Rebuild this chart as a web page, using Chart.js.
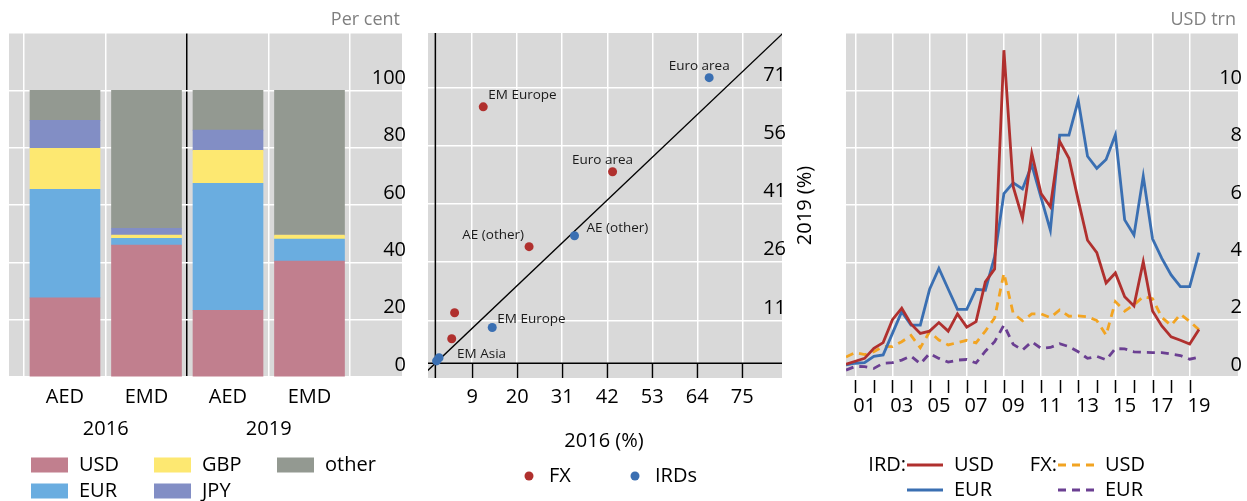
<!DOCTYPE html>
<html>
<head>
<meta charset="utf-8">
<script src="https://cdn.jsdelivr.net/npm/chart.js@4.4.0/dist/chart.umd.min.js"></script>
<style>
  body { margin: 0; background: #fff; }
  canvas { position: absolute; top: 0; }
</style>
</head>
<body>
<canvas id="shares" width="420" height="501" style="left:0"></canvas>
<canvas id="scatter" width="400" height="501" style="left:420px"></canvas>
<canvas id="lines" width="427" height="501" style="left:820px"></canvas>
<script>
// ---- left panel: currency shares, per cent
const barPos = [1, 2, 3, 4];
const barGroups = ['AED', 'EMD', 'AED', 'EMD'];
const yearPos = [1.5, 3.5];
const yearLabels = ['2016', '2019'];
const currencyNames = ['USD', 'EUR', 'GBP', 'JPY', 'other'];
const shareUSD = [27.6, 46.0, 23.3, 40.4];
const shareEUR = [37.9, 2.4, 44.3, 7.7];
const shareGBP = [14.3, 1.1, 11.5, 1.4];
const shareJPY = [9.7, 2.4, 7.0, 0.0];
const shareOther = [10.5, 48.1, 13.9, 50.5];

// ---- middle panel: 2016 vs 2019 (%)
const fxNames = ['EM Europe', 'Euro area', 'AE (other)', '', ''];
const fx2016 = [11.7, 43.3, 22.9, 4.7, 4.0];
const fx2019 = [66.0, 49.3, 30.0, 13.0, 6.3];
const irdNames = ['Euro area', 'AE (other)', 'EM Europe', 'EM Asia', ''];
const ird2016 = [66.9, 34.0, 13.9, 0.9, 0.3];
const ird2019 = [73.5, 32.8, 9.2, 1.4, 0.6];
const diagonal = [-5, 90];
const scatterXTicks = [9, 20, 31, 42, 53, 64, 75];
const scatterYTicks = [11, 26, 41, 56, 71];

// ---- right panel: USD trn, half-yearly
const periods = [2000.5, 2001, 2001.5, 2002, 2002.5, 2003, 2003.5, 2004, 2004.5, 2005, 2005.5,
  2006, 2006.5, 2007, 2007.5, 2008, 2008.5, 2009, 2009.5, 2010, 2010.5, 2011, 2011.5, 2012,
  2012.5, 2013, 2013.5, 2014, 2014.5, 2015, 2015.5, 2016, 2016.5, 2017, 2017.5, 2018, 2018.5,
  2019, 2019.5];
const irdUSD = [0.45, 0.55, 0.65, 1.0, 1.2, 2.0, 2.4, 1.85, 1.52, 1.6, 1.9, 1.6, 2.2, 1.74, 1.93,
  3.32, 3.77, 11.4, 6.64, 5.53, 7.8, 6.4, 5.94, 8.22, 7.63, 6.17, 4.77, 4.34, 3.28, 3.63, 2.8,
  2.48, 4.02, 2.3, 1.78, 1.4, 1.28, 1.15, 1.66];
const irdEUR = [0.42, 0.48, 0.5, 0.72, 0.77, 1.52, 2.28, 1.81, 1.81, 3.06, 3.79, 3.07, 2.36, 2.36,
  3.06, 3.03, 4.2, 6.4, 6.77, 6.56, 7.4, 6.26, 5.12, 8.44, 8.44, 9.65, 7.7, 7.28, 7.59, 8.45, 5.48,
  4.95, 7.0, 4.82, 4.14, 3.56, 3.15, 3.15, 4.34];
const fxUSD = [0.7, 0.85, 0.78, 0.88, 1.07, 1.06, 1.23, 1.45, 1.02, 1.58, 1.29, 1.12, 1.2, 1.28,
  1.19, 1.6, 2.06, 3.62, 2.22, 1.96, 2.2, 2.2, 2.07, 2.34, 2.12, 2.13, 2.1, 1.97, 1.46, 2.63, 2.3,
  2.52, 2.8, 2.73, 2.08, 1.8, 2.19, 1.94, 1.65];
const fxEUR = [0.24, 0.37, 0.36, 0.3, 0.48, 0.5, 0.59, 0.73, 0.46, 0.82, 0.65, 0.52, 0.59, 0.61,
  0.49, 0.9, 1.23, 1.81, 1.14, 0.94, 1.23, 1.0, 1.03, 1.16, 1.06, 0.88, 0.65, 0.72, 0.6, 0.99,
  0.98, 0.88, 0.86, 0.85, 0.85, 0.8, 0.75, 0.62, 0.69];
const instrumentNames = ['IRD:', 'FX:'];

// Global Options
const FONT = "'Open Sans', sans-serif";
Chart.defaults.font.family = FONT;
Chart.defaults.font.size = 20;
Chart.defaults.color = '#000';
Chart.defaults.animation = false;
Chart.defaults.plugins.legend.display = false;
Chart.defaults.plugins.tooltip.enabled = false;

const GREY = '#d9d9d9';
const RED = '#b0302e';
const BLUE = '#3a6fb2';
const ORANGE = '#f2a422';
const PURPLE = '#6b3f92';

// grey plot background
const greyBg = {
  id: 'greyBg',
  beforeDraw(chart) {
    const {ctx, chartArea: a} = chart;
    ctx.save();
    ctx.fillStyle = GREY;
    ctx.fillRect(a.left, a.top, a.right - a.left, a.bottom - a.top);
    ctx.restore();
  },
};

// small grey unit text above the plot, right aligned
const unitText = (text) => ({
  id: 'unitText',
  afterDraw(chart) {
    const {ctx, chartArea: a} = chart;
    ctx.save();
    ctx.font = '18px ' + FONT;
    ctx.fillStyle = '#7f7f7f';
    ctx.textAlign = 'right';
    ctx.textBaseline = 'middle';
    ctx.fillText(text, a.right - 2, a.top - 13);
    ctx.restore();
  },
});

const mirroredY = (extra) => Object.assign({
  position: 'right',
  afterFit: (s) => { s.width = 0; },
  border: {display: false},
  grid: {color: '#fff', lineWidth: 1.5, drawTicks: false},
}, extra);

// ================= left panel =================
const shareColors = ['#c17f8e', '#6aade0', '#fde871', '#828ec5', '#939991'];
const shareSeries = [shareUSD, shareEUR, shareGBP, shareJPY, shareOther];
const shareTicks = [0.5].concat(barPos.flatMap((p) => [p, p + 0.5]));

const shareLegend = {
  id: 'shareLegend',
  afterDraw(chart) {
    const {ctx, chartArea: a} = chart;
    ctx.save();
    ctx.font = '20px ' + FONT;
    ctx.textBaseline = 'middle';
    chart.data.datasets.forEach((ds, i) => {
      const x = a.left + 22 + Math.floor(i / 2) * 123;
      const y = a.bottom + 88 + (i % 2) * 26;
      ctx.fillStyle = ds.backgroundColor;
      ctx.fillRect(x, y - 7.5, 37, 15);
      ctx.fillStyle = '#000';
      ctx.fillText(ds.label, x + 48, y);
    });
    ctx.restore();
  },
};

new Chart(document.getElementById('shares'), {
  type: 'bar',
  data: {
    datasets: shareSeries.map((vals, i) => ({
      label: currencyNames[i],
      data: vals.map((v, j) => ({x: barPos[j], y: v})),
      backgroundColor: shareColors[i],
      borderWidth: 0,
      barThickness: 70,
    })),
  },
  options: {
    responsive: false,
    layout: {padding: {left: 9, right: 18, top: 33, bottom: 0}},
    scales: {
      x: {
        type: 'linear', stacked: true, offset: false, min: 0.313, max: 5.135,
        afterBuildTicks: (s) => { s.ticks = shareTicks.map((v) => ({value: v})); },
        afterFit: (s) => { s.height = 124; },
        border: {display: false},
        grid: {
          offset: false, drawTicks: false,
          lineWidth: 1.5,
          color: (c) => {
            const v = c.tick.value;
            if (v === 2.5) return '#000';
            return v % 1 === 0.5 ? '#fff' : 'rgba(0,0,0,0)';
          },
        },
        ticks: {
          padding: 4, autoSkip: false, maxRotation: 0,
          font: {size: 20, lineHeight: 1.6},
          callback: (v) => {
            const b = barPos.indexOf(v);
            if (b >= 0) return barGroups[b];
            const y = yearPos.indexOf(v);
            return y >= 0 ? ['', yearLabels[y]] : '';
          },
        },
      },
      y: mirroredY({
        stacked: true, min: 0, max: 120,
        ticks: {stepSize: 20, mirror: true, padding: 4, labelOffset: -12,
          callback: (v) => (v <= 100 ? v : '')},
      }),
    },
  },
  plugins: [greyBg, unitText('Per cent'), shareLegend],
});

// ================= middle panel =================
const labelPlace = {
  0: [['left', 5, -12], ['center', -10, -12], ['right', -5, -12]],
  1: [['center', -10, -12], ['left', 12, -8], ['left', 5, -8], ['left', 18, -4]],
};

const scatterDecor = {
  id: 'scatterDecor',
  beforeDatasetsDraw(chart) {
    const {ctx, chartArea: a, scales} = chart;
    const x0 = scales.x.getPixelForValue(0);
    const y0 = scales.y.getPixelForValue(0);
    ctx.save();
    ctx.strokeStyle = '#000';
    ctx.lineWidth = 1.5;
    ctx.beginPath();
    ctx.moveTo(x0, a.top); ctx.lineTo(x0, a.bottom);
    ctx.moveTo(a.left, y0); ctx.lineTo(a.right, y0);
    scales.x.ticks.forEach((t) => {
      const px = Math.round(scales.x.getPixelForValue(t.value)) + 0.5;
      ctx.moveTo(px, y0); ctx.lineTo(px, a.bottom);
    });
    ctx.stroke();
    ctx.restore();
  },
  afterDatasetsDraw(chart) {
    const {ctx} = chart;
    ctx.save();
    ctx.font = '13.5px ' + FONT;
    ctx.fillStyle = '#1a1a1a';
    ctx.textBaseline = 'middle';
    [fxNames, irdNames].forEach((names, d) => {
      const pts = chart.getDatasetMeta(d).data;
      names.forEach((name, i) => {
        if (!name) return;
        const [align, dx, dy] = labelPlace[d][i];
        ctx.textAlign = align;
        ctx.fillText(name, pts[i].x + dx, pts[i].y + dy);
      });
    });
    ctx.restore();
  },
  afterDraw(chart) {
    const {ctx, chartArea: a} = chart;
    ctx.save();
    ctx.font = '20px ' + FONT;
    ctx.fillStyle = '#000';
    ctx.textAlign = 'center';
    ctx.textBaseline = 'middle';
    ctx.fillText('2016 (%)', (a.left + a.right) / 2 - 1, a.bottom + 63);
    ctx.save();
    ctx.translate(a.right + 23, (a.top + a.bottom) / 2);
    ctx.rotate(-Math.PI / 2);
    ctx.fillText('2019 (%)', 0, 0);
    ctx.restore();
    // legend
    ctx.textAlign = 'left';
    chart.data.datasets.slice(0, 2).forEach((ds, i) => {
      const x = a.left + 101 + i * 106;
      const y = a.bottom + 98;
      ctx.fillStyle = ds.backgroundColor;
      ctx.beginPath();
      ctx.arc(x, y, 4.5, 0, Math.PI * 2);
      ctx.fill();
      ctx.fillStyle = '#000';
      ctx.fillText(ds.label, x + 20, y);
    });
    ctx.restore();
  },
};

new Chart(document.getElementById('scatter'), {
  type: 'scatter',
  data: {
    datasets: [
      {label: 'FX', data: fx2016.map((x, i) => ({x, y: fx2019[i]})),
        backgroundColor: RED, borderWidth: 0, pointRadius: 4.5},
      {label: 'IRDs', data: ird2016.map((x, i) => ({x, y: ird2019[i]})),
        backgroundColor: BLUE, borderWidth: 0, pointRadius: 4.5},
      {label: '45 degree', data: diagonal.map((v) => ({x: v, y: v})), showLine: true,
        borderColor: '#000', borderWidth: 1.3, pointRadius: 0},
    ],
  },
  options: {
    responsive: false,
    layout: {padding: {left: 8, right: 38, top: 33, bottom: 0}},
    scales: {
      x: {
        type: 'linear', min: -1.8, max: 84.7,
        afterBuildTicks: (s) => { s.ticks = scatterXTicks.map((v) => ({value: v})); },
        afterFit: (s) => { s.height = 123; },
        border: {display: false},
        grid: {color: '#fff', lineWidth: 1.5, drawTicks: false},
        ticks: {padding: 7, autoSkip: false, maxRotation: 0},
      },
      y: mirroredY({
        type: 'linear', min: -3.8, max: 85,
        afterBuildTicks: (s) => { s.ticks = scatterYTicks.map((v) => ({value: v})); },
        ticks: {mirror: true, padding: 4, labelOffset: -12.5},
      }),
    },
  },
  plugins: [greyBg, scatterDecor],
});

// ================= right panel =================
const lineDecor = {
  id: 'lineDecor',
  afterDraw(chart) {
    const {ctx, chartArea: a, scales} = chart;
    ctx.save();
    // year tick marks below the plot
    ctx.strokeStyle = '#000';
    ctx.lineWidth = 1.5;
    ctx.beginPath();
    scales.x.ticks.forEach((t) => {
      const px = Math.round(scales.x.getPixelForValue(t.value)) + 0.5;
      ctx.moveTo(px, a.bottom + 3); ctx.lineTo(px, a.bottom + 16);
    });
    ctx.stroke();
    // legend
    ctx.font = '20px ' + FONT;
    ctx.textBaseline = 'middle';
    chart.data.datasets.forEach((ds, i) => {
      const col = Math.floor(i / 2);
      const row = i % 2;
      const x = a.left + 61 + col * 151;
      const y = a.bottom + 88 + row * 25;
      if (row === 0) {
        ctx.fillStyle = '#000';
        ctx.textAlign = 'right';
        ctx.fillText(instrumentNames[col], x - 1, y);
      }
      ctx.strokeStyle = ds.borderColor;
      ctx.lineWidth = ds.borderWidth;
      ctx.setLineDash(ds.borderDash || []);
      ctx.beginPath();
      ctx.moveTo(x, y); ctx.lineTo(x + 36, y);
      ctx.stroke();
      ctx.setLineDash([]);
      ctx.fillStyle = '#000';
      ctx.textAlign = 'left';
      ctx.fillText(ds.label, x + 47, y);
    });
    ctx.restore();
  },
};

const lineSet = (label, vals, color, dash) => ({
  label,
  data: vals.map((v, i) => ({x: periods[i], y: v})),
  borderColor: color,
  borderWidth: 2.8,
  borderDash: dash,
  pointRadius: 0,
  tension: 0,
});

new Chart(document.getElementById('lines'), {
  type: 'line',
  data: {
    datasets: [
      lineSet('USD', irdUSD, RED, []),
      lineSet('EUR', irdEUR, BLUE, []),
      lineSet('USD', fxUSD, ORANGE, [8, 6]),
      lineSet('EUR', fxEUR, PURPLE, [8, 6]),
    ],
  },
  options: {
    responsive: false,
    layout: {padding: {left: 26, right: 9, top: 33, bottom: 0}},
    scales: {
      x: {
        type: 'linear', min: 2000.5, max: 2021.6,
        afterBuildTicks: (s) => {
          s.ticks = periods.filter((p) => Number.isInteger(p) && p > 2000).map((v) => ({value: v}));
        },
        afterFit: (s) => { s.height = 124; },
        border: {display: false},
        grid: {
          color: (c) => (c.tick.value % 2 === 1 ? '#fff' : 'rgba(0,0,0,0)'),
          lineWidth: 1.5,
          drawTicks: false,
        },
        ticks: {
          padding: 17, autoSkip: false, maxRotation: 0, labelOffset: 9.3,
          callback: (v) => (v % 2 === 1 ? String(v).slice(2) : ''),
        },
      },
      y: mirroredY({
        min: 0, max: 12,
        ticks: {stepSize: 2, mirror: true, padding: 4, labelOffset: -12,
          callback: (v) => (v <= 10 ? v : '')},
      }),
    },
  },
  plugins: [greyBg, unitText('USD trn'), lineDecor],
});
</script>
</body>
</html>
